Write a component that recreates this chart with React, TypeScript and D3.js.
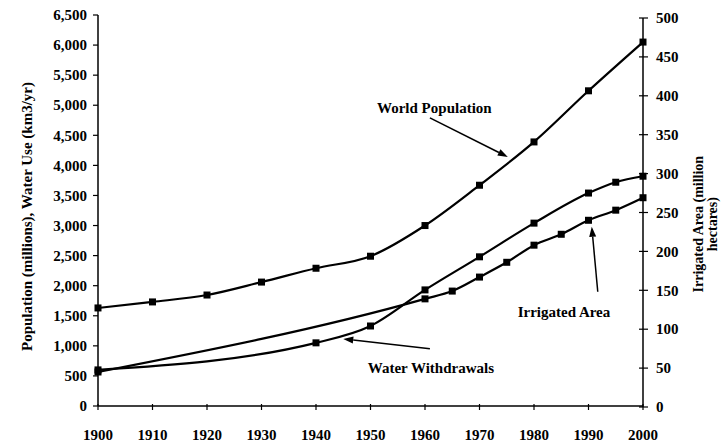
import React from "react";
import * as d3 from "d3";

// readings taken off the scanned chart
const popYears = [1900, 1910, 1920, 1930, 1940, 1950, 1960, 1970, 1980, 1990, 2000];
const populationValues = [1630, 1730, 1845, 2060, 2290, 2490, 3000, 3670, 4390, 5240, 6050];

const withdrawalYears = [1900, 1940, 1950, 1960, 1970, 1980, 1990, 1995, 2000];
const withdrawalValues = [600, 1050, 1330, 1930, 2480, 3040, 3540, 3720, 3820];

const irrigatedYears = [1900, 1960, 1965, 1970, 1975, 1980, 1985, 1990, 1995, 2000];
const irrigatedValues = [45, 139, 149, 167, 186, 208, 222, 240, 253, 269]; // million ha (right axis)

const xTicks = [1900, 1910, 1920, 1930, 1940, 1950, 1960, 1970, 1980, 1990, 2000];
const leftTicks = [0, 500, 1000, 1500, 2000, 2500, 3000, 3500, 4000, 4500, 5000, 5500, 6000, 6500];
const rightTicks = [0, 50, 100, 150, 200, 250, 300, 350, 400, 450, 500];

// annotations, in data units (year, left-axis value)
const labels = [
  { text: "World Population", x: 1951.2, y: 4870, anchor: "start", from: [1960.9, 4790], to: [1975.2, 4140] },
  { text: "Irrigated Area", x: 1985.5, y: 1480, anchor: "middle", from: [1991.7, 1900], to: [1990.6, 2980] },
  { text: "Water Withdrawals", x: 1949.5, y: 550, anchor: "start", from: [1960.9, 950], to: [1945.0, 1115] },
];

const W = 723;
const H = 447;
const font = "'Liberation Serif', 'Times New Roman', serif";

const App: React.FC = () => {
  const x = d3.scaleLinear().domain([1900, 2000]).range([98, 643]);
  const yL = d3.scaleLinear().domain([0, 6500]).range([406, 15]);
  const yR = d3.scaleLinear().domain([0, 500]).range([407, 18]);
  const fmt = d3.format(",");

  const lineL = d3.line<[number, number]>().x((d) => x(d[0])).y((d) => yL(d[1])).curve(d3.curveMonotoneX);
  const lineR = d3.line<[number, number]>().x((d) => x(d[0])).y((d) => yR(d[1])).curve(d3.curveMonotoneX);

  const pop = popYears.map((yr, i) => [yr, populationValues[i]] as [number, number]);
  const wd = withdrawalYears.map((yr, i) => [yr, withdrawalValues[i]] as [number, number]);
  const irr = irrigatedYears.map((yr, i) => [yr, irrigatedValues[i]] as [number, number]);

  const ms = 7; // marker size
  const square = (cx: number, cy: number, k: string) => (
    <rect key={k} x={cx - ms / 2} y={cy - ms / 2} width={ms} height={ms} fill="#000" />
  );

  const arrow = (a: number[], b: number[], k: string) => {
    const x1 = x(a[0]), y1 = yL(a[1]), x2 = x(b[0]), y2 = yL(b[1]);
    const ang = Math.atan2(y2 - y1, x2 - x1);
    const len = 10, hw = 3.5;
    const bx = x2 - len * Math.cos(ang), by = y2 - len * Math.sin(ang);
    const pts = [
      [x2, y2],
      [bx + hw * Math.sin(ang), by - hw * Math.cos(ang)],
      [bx - hw * Math.sin(ang), by + hw * Math.cos(ang)],
    ];
    return (
      <g key={k}>
        <line x1={x1} y1={y1} x2={bx} y2={by} stroke="#000" strokeWidth={1.5} />
        <polygon points={pts.map((p) => p.join(",")).join(" ")} fill="#000" />
      </g>
    );
  };

  return (
    <svg
      width={W}
      height={H}
      style={{ position: "absolute", left: 0, top: 0, background: "#fff" }}
      fontFamily={font}
      fontWeight="bold"
    >
      <rect width={W} height={H} fill="#fff" />

      {/* axes */}
      <line x1={x(1900)} y1={yL(6500)} x2={x(1900)} y2={yL(0)} stroke="#000" strokeWidth={1.5} />
      <line x1={x(2000)} y1={yR(500)} x2={x(2000)} y2={yR(0)} stroke="#000" strokeWidth={1.5} />
      <line x1={x(1900)} y1={yL(0)} x2={x(2000)} y2={yL(0)} stroke="#000" strokeWidth={1.5} />

      {leftTicks.map((t) => (
        <g key={"l" + t}>
          <line x1={x(1900) - 5} x2={x(1900)} y1={yL(t)} y2={yL(t)} stroke="#000" strokeWidth={1.2} />
          <text x={x(1900) - 11} y={yL(t)} dy="0.35em" textAnchor="end" fontSize={15}>
            {fmt(t)}
          </text>
        </g>
      ))}
      {rightTicks.map((t) => (
        <g key={"r" + t}>
          <line x1={x(2000) - 4} x2={x(2000) + 5} y1={yR(t)} y2={yR(t)} stroke="#000" strokeWidth={1.2} />
          <text x={x(2000) + 13} y={yR(t)} dy="0.35em" textAnchor="start" fontSize={15}>
            {t}
          </text>
        </g>
      ))}
      {xTicks.map((t) => (
        <g key={"x" + t}>
          <line x1={x(t)} x2={x(t)} y1={yL(0) - 2} y2={yL(0) + 4} stroke="#000" strokeWidth={1.2} />
          <text x={x(t)} y={yL(0) + 34} textAnchor="middle" fontSize={15}>
            {t}
          </text>
        </g>
      ))}

      {/* axis titles */}
      <text transform={`translate(32,${yL(3250) + 6}) rotate(-90)`} textAnchor="middle" fontSize={15}>
        Population (millions), Water Use (km3/yr)
      </text>
      <text transform={`translate(703,${yR(235)}) rotate(-90)`} textAnchor="middle" fontSize={14}>
        <tspan x={0} dy={0}>Irrigated Area (million</tspan>
        <tspan x={0} dy={14}>hectares)</tspan>
      </text>

      {/* series */}
      <path d={lineL(pop) ?? ""} fill="none" stroke="#000" strokeWidth={2.2} />
      <path d={lineL(wd) ?? ""} fill="none" stroke="#000" strokeWidth={2.2} />
      <path d={lineR(irr) ?? ""} fill="none" stroke="#000" strokeWidth={2.2} />
      {pop.map((d, i) => square(x(d[0]), yL(d[1]), "p" + i))}
      {wd.map((d, i) => square(x(d[0]), yL(d[1]), "w" + i))}
      {irr.map((d, i) => square(x(d[0]), yR(d[1]), "i" + i))}

      {/* annotations */}
      {labels.map((l, i) => (
        <g key={"a" + i}>
          <text x={x(l.x)} y={yL(l.y)} textAnchor={l.anchor as any} fontSize={15}>
            {l.text}
          </text>
          {arrow(l.from, l.to, "ar" + i)}
        </g>
      ))}
    </svg>
  );
};

export default App;
